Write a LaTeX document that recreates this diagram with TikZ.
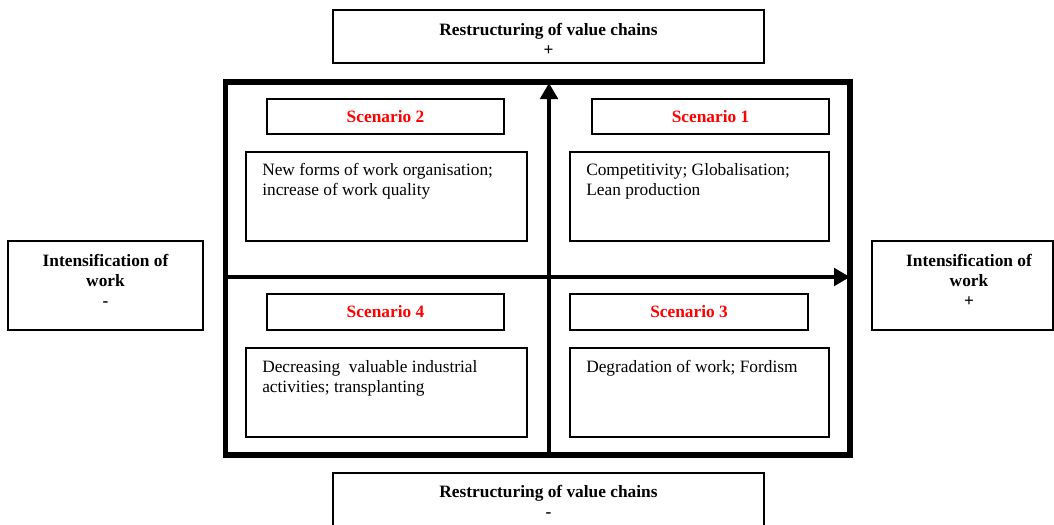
\documentclass[tikz,border=0pt]{standalone}
\usepackage{fontspec}
\setmainfont{Liberation Serif}
\usetikzlibrary{arrows.meta}
\definecolor{scred}{RGB}{255,0,0}
\tikzset{
  px/.style={x=0.75pt,y=-0.75pt},
  box/.style={draw=black,line width=1pt,rectangle,inner sep=0pt,fill=white},
  headtxt/.style={font=\fontsize{13}{15}\selectfont\bfseries,align=center},
  scentxt/.style={font=\fontsize{13}{15}\selectfont\bfseries,text=scred},
  bodytxt/.style={font=\fontsize{13}{15}\selectfont,align=left,anchor=north west,inner sep=0pt},
  frame/.style={line width=3.8pt},
  axis/.style={line width=3.2pt,-{Triangle[length=12pt,width=13pt]}},
}
\begin{document}
\begin{tikzpicture}[px]
\useasboundingbox (0,0) rectangle (1054,525);
% outer labels
\node[box,minimum width=431*0.75pt,minimum height=53*0.75pt] (top) at (548.5,36.5) {};
\node[headtxt] (toptxt) at (548.5,39) {Restructuring of value chains\\+};
\node[box,minimum width=431*0.75pt,minimum height=53*0.75pt] (bot) at (548.5,499.5) {};
\node[headtxt,anchor=north] (bottxt) at (548.5,481) {Restructuring of value chains\\-};
\node[box,minimum width=195*0.75pt,minimum height=89*0.75pt] (left) at (105.5,285.5) {};
\node[headtxt] (lefttxt) at (105.5,280) {Intensification of\\work\\-};
\node[box,minimum width=181*0.75pt,minimum height=89*0.75pt] (right) at (962.5,285.5) {};
\node[headtxt] (righttxt) at (969,280) {Intensification of\\work\\+};
% frame
\draw[frame] (225.5,82) rectangle (850,455);
% axes
\coordinate (vb) at (549,455);
\coordinate (vt) at (549,83);
\coordinate (hl) at (225.5,277);
\coordinate (hr) at (850,277);
\draw[axis] (vb) -- (vt);
\draw[axis] (hl) -- (hr);
% scenario headers
\node[box,minimum width=237*0.75pt,minimum height=35*0.75pt] (s2) at (385.5,116.5) {};
\node[scentxt] (s2t) at (s2.center) {Scenario 2};
\node[box,minimum width=237*0.75pt,minimum height=35*0.75pt] (s1) at (710.5,116.5) {};
\node[scentxt] (s1t) at (s1.center) {Scenario 1};
\node[box,minimum width=237*0.75pt,minimum height=36*0.75pt] (s4) at (385.5,312) {};
\node[scentxt] (s4t) at (s4.center) {Scenario 4};
\node[box,minimum width=238*0.75pt,minimum height=36*0.75pt] (s3) at (689,312) {};
\node[scentxt] (s3t) at (s3.center) {Scenario 3};
% content boxes
\node[box,minimum width=281*0.75pt,minimum height=89*0.75pt] (c2) at (386.5,196.5) {};
\node[bodytxt] (c2t) at (262,163) {New forms of work organisation;\\increase of work quality};
\node[box,minimum width=259*0.75pt,minimum height=89*0.75pt] (c1) at (699.5,196.5) {};
\node[bodytxt] (c1t) at (586,163) {Competitivity; Globalisation;\\Lean production};
\node[box,minimum width=281*0.75pt,minimum height=89*0.75pt] (c4) at (386.5,392.5) {};
\node[bodytxt] (c4t) at (262,360) {Decreasing\ \ valuable industrial\\activities; transplanting};
\node[box,minimum width=259*0.75pt,minimum height=89*0.75pt] (c3) at (699.5,392.5) {};
\node[bodytxt] (c3t) at (586,360) {Degradation of work; Fordism};
\end{tikzpicture}
\end{document}
